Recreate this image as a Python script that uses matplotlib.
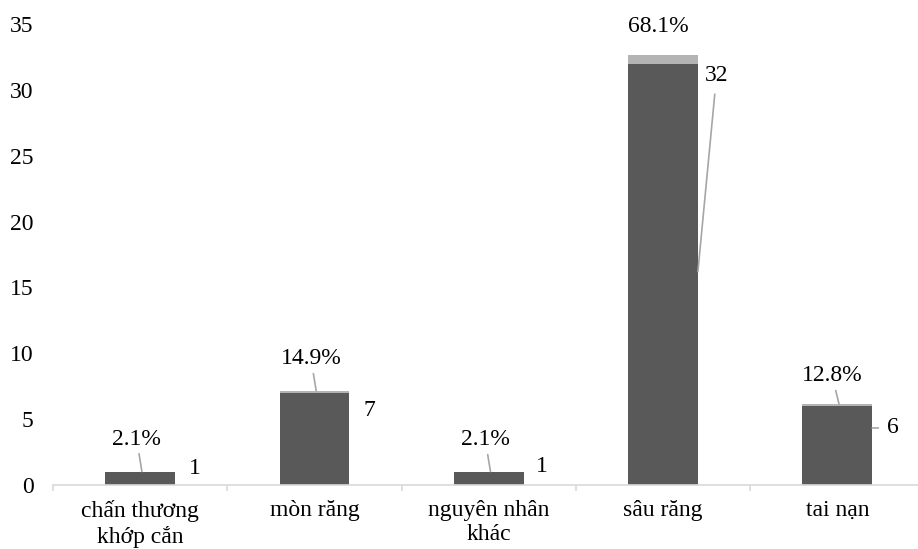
import matplotlib
matplotlib.use("Agg")
import matplotlib.pyplot as plt
import numpy as np

plt.rcParams['font.family'] = ['Liberation Serif', 'DejaVu Serif']
plt.rcParams['font.size'] = 17

# nguyen nhan -> so ca, ty le
categories = ["chấn thương\nkhớp cắn", "mòn răng", "nguyên nhân\nkhác", "sâu răng", "tai nạn"]
counts = [1, 7, 1, 32, 6]
percents = [2.1, 14.9, 2.1, 68.1, 12.8]

dark = "#595959"
light = "#b4b4b4"
leader = "#a6a6a6"

fig = plt.figure(figsize=(9.18, 5.49), dpi=100)
ax = fig.add_axes([53 / 918, 64 / 549, 871.5 / 918, 461 / 549])

x = np.arange(len(categories))
w = 0.40
pct_vals = [p / 100 for p in percents]
ax.bar(x, counts, w, color=dark, edgecolor="none")
ax.bar(x, pct_vals, w, bottom=counts, color=light, edgecolor="none")

ax.set_xlim(-0.5, len(categories) - 0.5)
ax.set_ylim(0, 35)
ax.set_yticks(range(0, 36, 5))
ax.set_xticks(x)
ax.set_xticklabels(categories, linespacing=1.2)
ax.set_xticks(np.arange(-0.5, len(categories), 1.0), minor=True)

for s in ["top", "right", "left"]:
    ax.spines[s].set_visible(False)
ax.spines["bottom"].set_color("#d9d9d9")
ax.spines["bottom"].set_linewidth(1.2)
ax.tick_params(axis="y", length=0, pad=14)
ax.tick_params(axis="x", which="major", length=0, pad=11)
ax.tick_params(axis="x", which="minor", length=4, color="#d9d9d9", width=1.2)

line_kw = dict(arrowstyle="-", color=leader, lw=1.2, shrinkA=1, shrinkB=0)

# nhan phan tram phia tren cot
pct_pos = [(-0.02, 3.49), (0.98, 9.57), (1.98, 3.42), (2.97, 34.8), (3.97, 8.28)]
for i, (p, (tx, ty)) in enumerate(zip(percents, pct_pos)):
    top = counts[i] + pct_vals[i]
    props = None if i == 3 else line_kw
    ax.annotate(f"{p}%", xy=(i + 0.01, top), xytext=(tx, ty),
                ha="center", va="center", arrowprops=props)

# nhan so ca ben phai cot
cnt_pos = [(0.313, 1.29), (1.317, 5.69), (2.307, 1.39), (3.307, 31.1), (4.317, 4.33)]
cnt_anchor = [None, None, None, (3.2, 16.2), (4.2, 4.33)]
for i, (c, (tx, ty)) in enumerate(zip(counts, cnt_pos)):
    if cnt_anchor[i] is None:
        ax.text(tx, ty, str(c), ha="center", va="center")
    else:
        ax.annotate(str(c), xy=cnt_anchor[i], xytext=(tx, ty),
                    ha="center", va="center",
                    arrowprops=dict(line_kw, shrinkA=4))

fig.savefig("out.png", dpi=100)
